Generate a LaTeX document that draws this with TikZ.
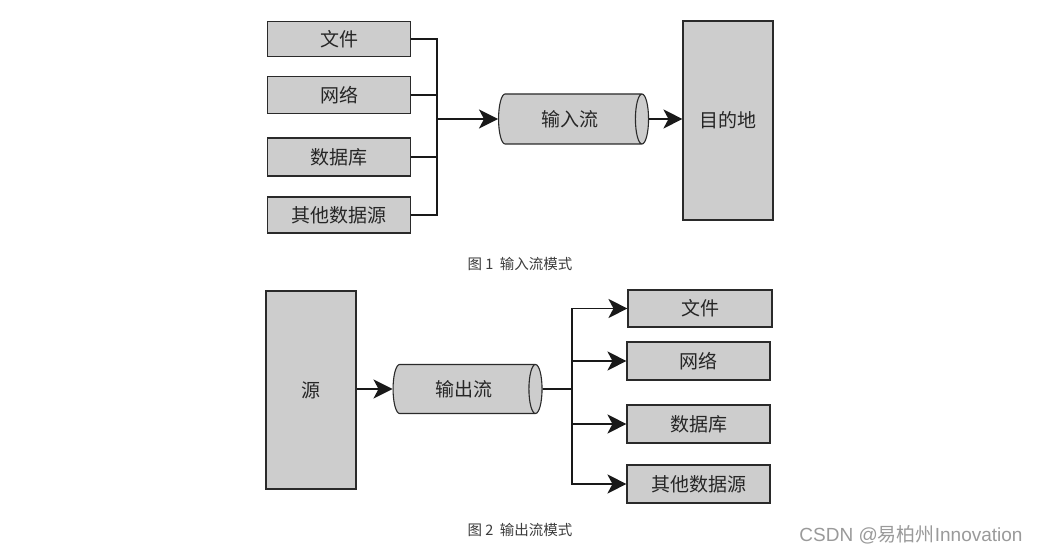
\documentclass[tikz,border=0pt]{standalone}
\usepackage{fontspec}
\setmainfont{Liberation Sans}
\newfontfamily\cjk{Noto Sans CJK SC}
\usetikzlibrary{shapes.geometric,arrows.meta}
\definecolor{boxgray}{HTML}{CDCDCD}
\definecolor{edgegray}{HTML}{2A2A2A}
\definecolor{capgray}{HTML}{3C3C3C}
\definecolor{markgray}{HTML}{9A9A9A}
\tikzset{
  gbox/.style={draw=edgegray, fill=boxgray, line width=1.1pt, inner sep=0pt,
    font=\cjk\fontsize{19}{22}\selectfont, text=black!85},
  pipe/.style={cylinder, draw=edgegray, fill=boxgray, line width=1.1pt, inner sep=0pt,
    aspect=0.75, font=\cjk\fontsize{19}{22}\selectfont, text=black!85},
  wire/.style={draw=black!90, line width=1.8pt},
  arr/.style={wire, -{Stealth[length=19pt,width=19pt,inset=5pt]}},
  caption/.style={font=\cjk\fontsize{14.5}{17}\selectfont, text=capgray},
}
\begin{document}
\begin{tikzpicture}[x=1pt,y=-1pt]
\useasboundingbox[fill=white] (0,0) rectangle (1037,553);
% ---- figure 1
\node[gbox, minimum width=143pt, minimum height=35pt] (s1) at (339,39) {文件};
\node[gbox, minimum width=143pt, minimum height=37pt] (s2) at (339,95) {网络};
\node[gbox, minimum width=143pt, minimum height=38pt] (s3) at (339,157) {数据库};
\node[gbox, minimum width=143pt, minimum height=36pt] (s4) at (339,215) {其他数据源};
\node[pipe, minimum height=150pt, minimum width=50pt] (in) at (570,119) {输入流};
\node[gbox, minimum width=90pt, minimum height=199pt] (dst) at (728,120.5) {目的地};
\coordinate (j1) at (437,119);
\draw[wire] (s1.east) -| (j1);
\draw[wire] (s2.east) -| (j1);
\draw[wire] (s3.east) -| (j1);
\draw[wire] (s4.east) -| (j1);
\draw[arr] (j1) -- (in.west);
\draw[arr] (in.east) -- (dst.west |- in.east);
\node[caption] (cap1) at (520,264) {图 1\ \ 输入流模式};
% ---- figure 2
\node[gbox, minimum width=90pt, minimum height=198pt] (src) at (311,390) {源};
\node[pipe, minimum height=149pt, minimum width=49pt] (out) at (464,389) {输出流};
\node[gbox, minimum width=144pt, minimum height=37pt] (t1) at (700,308.5) {文件};
\node[gbox, minimum width=143pt, minimum height=38pt] (t2) at (698.5,361) {网络};
\node[gbox, minimum width=143pt, minimum height=38pt] (t3) at (698.5,424) {数据库};
\node[gbox, minimum width=143pt, minimum height=38pt] (t4) at (698.5,484) {其他数据源};
\coordinate (j2) at (572,389);
\draw[arr] (src.east |- out.west) -- (out.west);
\draw[wire] (out.east) -- (j2);
\draw[arr] (j2) |- (t1.west);
\draw[arr] (j2) |- (t2.west);
\draw[arr] (j2) |- (t3.west);
\draw[arr] (j2) |- (t4.west);
\node[caption] (cap2) at (520,530) {图 2\ \ 输出流模式};
% ---- watermark
\node[font=\fontsize{19}{22}\selectfont, text=markgray] (mark) at (911,535) {CSDN @{\cjk 易柏州}Innovation};
\end{tikzpicture}
\end{document}
